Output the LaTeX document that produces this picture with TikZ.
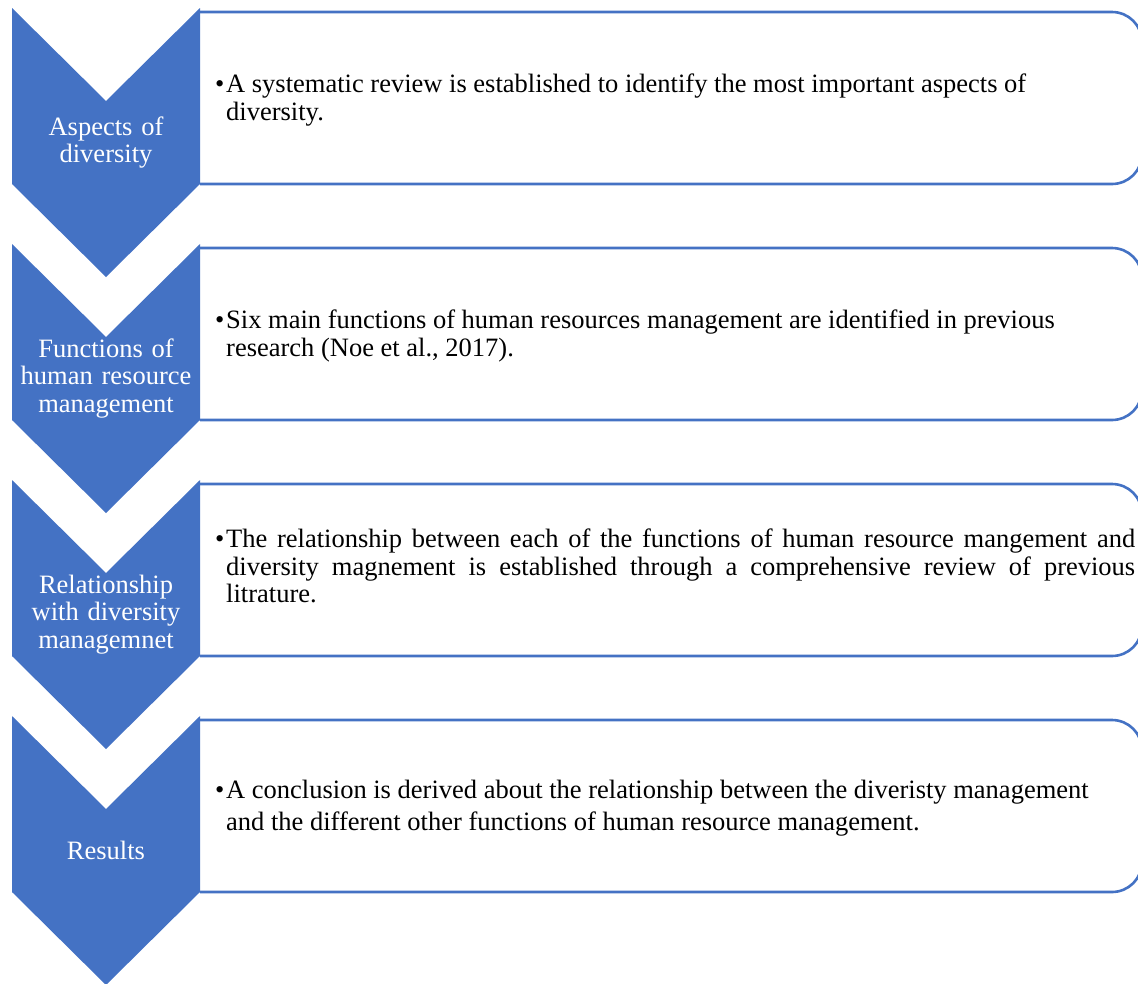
\documentclass[tikz,border=0pt]{standalone}
\usepackage{fontspec}
\setmainfont{Liberation Serif}
\definecolor{stepblue}{HTML}{4472C4}
\begin{document}
\begin{tikzpicture}[x=1pt,y=-1pt,
  chevron/.style={fill=stepblue,draw=none},
  detailbox/.style={draw=stepblue,line width=2.6pt,fill=white,rounded corners=30pt},
  steplabel/.style={text=white,align=center,text width=184pt,inner sep=0pt,
    font=\fontsize{26.5}{27.5}\selectfont},
  detailtext/.style={anchor=west,align=justify,text width=920pt,inner sep=0pt,
    font=\fontsize{26.5}{27.5}\selectfont}]
\useasboundingbox (0,0) rectangle (1138,983);
\clip (0,0) rectangle (1138,983);

% one stage: chevron on the left, detail panel on the right
\foreach \t [count=\i] in {8,244,480,716}{
  \pgfmathsetmacro{\bt}{\t+4}
  \pgfmathsetmacro{\bb}{\t+176}
  \draw[detailbox] (200,\bt) -- (1142,\bt) -- (1142,\bb) -- (200,\bb);
  \fill[chevron] (12,\t) -- (106,\t+93) -- (200,\t) -- (200,\t+176)
    -- (106,\t+269) -- (12,\t+176) -- cycle;
}

% bulleted paragraph with hanging indent
\newcommand{\bulleted}[1]{\hangindent=11pt\hangafter=1\noindent\makebox[11pt][l]{\textbullet}#1\par}

\node[steplabel] (s1) at (106,142.5) {Aspects of\\diversity};
\node[steplabel] (s2) at (106,378.5) {Functions of\\human resource\\management};
\node[steplabel] (s3) at (106,614.5) {Relationship\\with diversity\\managemnet};
\node[steplabel] (s4) at (106,850.5) {Results};

\node[detailtext] (d1) at (215,100) {\bulleted{A systematic review is established to identify the most important aspects of\\ diversity.}};
\node[detailtext] (d2) at (215,336) {\bulleted{Six main functions of human resources management are identified in previous\\ research (Noe et al., 2017).}};
\node[detailtext] (d3) at (215,566) {\bulleted{The relationship between each of the functions of human resource mangement and\linebreak diversity magnement is established through a comprehensive review of previous\linebreak litrature.}};
\node[detailtext,font=\fontsize{26.5}{32}\selectfont] (d4) at (215,808) {\bulleted{A conclusion is derived about the relationship between the diveristy management\\ and the different other functions of human resource management.}};
\end{tikzpicture}
\end{document}
